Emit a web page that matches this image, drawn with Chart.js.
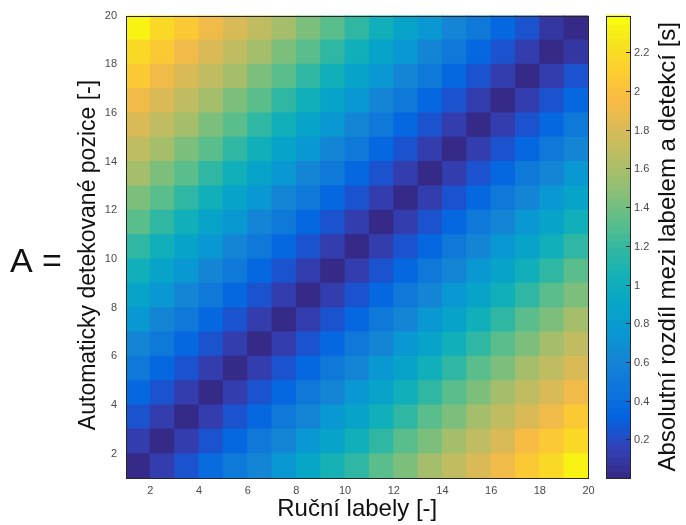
<!DOCTYPE html>
<html>
<head>
<meta charset="utf-8">
<script src="https://cdn.jsdelivr.net/npm/chart.js@4/dist/chart.umd.min.js"></script>
<style>
  html, body { margin: 0; padding: 0; background: #fff; }
  canvas { display: block; }
</style>
</head>
<body>
<canvas id="heat" width="686" height="525"></canvas>
<script>
// pcolor-style grid: 19 x 19 cells, cell [x, x+1] x [y, y+1]
const cols = [1, 2, 3, 4, 5, 6, 7, 8, 9, 10, 11, 12, 13, 14, 15, 16, 17, 18, 19];
const rows = [1, 2, 3, 4, 5, 6, 7, 8, 9, 10, 11, 12, 13, 14, 15, 16, 17, 18, 19];
const xTicks = [2, 4, 6, 8, 10, 12, 14, 16, 18, 20];
const yTicks = [2, 4, 6, 8, 10, 12, 14, 16, 18, 20];
const cbTicks = [0.2, 0.4, 0.6, 0.8, 1, 1.2, 1.4, 1.6, 1.8, 2, 2.2];
const cbRange = [0, 2.39];

// absolute difference [s], one array per row (y = 1 at the bottom)
const y01 = [0.02, 0.12, 0.25, 0.38, 0.50, 0.63, 0.77, 0.90, 1.05, 1.19, 1.32, 1.45, 1.57, 1.70, 1.82, 1.94, 2.07, 2.20, 2.34];
const y02 = [0.12, 0.03, 0.12, 0.24, 0.37, 0.50, 0.62, 0.76, 0.89, 1.04, 1.18, 1.31, 1.44, 1.57, 1.70, 1.82, 1.95, 2.07, 2.20];
const y03 = [0.23, 0.12, 0.02, 0.12, 0.23, 0.37, 0.49, 0.62, 0.75, 0.88, 1.03, 1.18, 1.31, 1.44, 1.57, 1.70, 1.82, 1.94, 2.07];
const y04 = [0.37, 0.23, 0.12, 0.02, 0.12, 0.24, 0.37, 0.49, 0.62, 0.75, 0.88, 1.04, 1.18, 1.31, 1.44, 1.57, 1.70, 1.82, 1.94];
const y05 = [0.49, 0.37, 0.23, 0.12, 0.02, 0.12, 0.24, 0.37, 0.49, 0.62, 0.75, 0.88, 1.04, 1.18, 1.31, 1.44, 1.57, 1.70, 1.82];
const y06 = [0.62, 0.49, 0.37, 0.23, 0.12, 0.02, 0.12, 0.23, 0.37, 0.49, 0.62, 0.75, 0.88, 1.04, 1.18, 1.31, 1.44, 1.57, 1.70];
const y07 = [0.75, 0.62, 0.49, 0.37, 0.23, 0.12, 0.02, 0.12, 0.24, 0.37, 0.50, 0.62, 0.75, 0.88, 1.04, 1.18, 1.31, 1.44, 1.57];
const y08 = [0.88, 0.75, 0.62, 0.49, 0.37, 0.23, 0.12, 0.02, 0.12, 0.23, 0.37, 0.49, 0.62, 0.75, 0.88, 1.04, 1.18, 1.31, 1.44];
const y09 = [1.04, 0.88, 0.75, 0.62, 0.49, 0.37, 0.23, 0.12, 0.02, 0.12, 0.24, 0.37, 0.49, 0.62, 0.76, 0.89, 1.04, 1.18, 1.31];
const y10 = [1.18, 1.04, 0.88, 0.75, 0.62, 0.49, 0.37, 0.23, 0.12, 0.02, 0.12, 0.23, 0.37, 0.49, 0.62, 0.75, 0.88, 1.04, 1.18];
const y11 = [1.31, 1.18, 1.04, 0.88, 0.75, 0.62, 0.49, 0.37, 0.24, 0.12, 0.02, 0.12, 0.23, 0.37, 0.49, 0.62, 0.75, 0.88, 1.04];
const y12 = [1.44, 1.31, 1.18, 1.04, 0.88, 0.75, 0.62, 0.49, 0.37, 0.23, 0.12, 0.02, 0.12, 0.24, 0.37, 0.49, 0.62, 0.76, 0.88];
const y13 = [1.57, 1.44, 1.31, 1.18, 1.04, 0.88, 0.75, 0.62, 0.49, 0.37, 0.23, 0.12, 0.02, 0.12, 0.23, 0.37, 0.49, 0.62, 0.75];
const y14 = [1.70, 1.57, 1.44, 1.31, 1.18, 1.04, 0.88, 0.75, 0.62, 0.49, 0.37, 0.24, 0.12, 0.02, 0.12, 0.23, 0.37, 0.49, 0.62];
const y15 = [1.82, 1.70, 1.57, 1.44, 1.31, 1.18, 1.04, 0.88, 0.75, 0.62, 0.49, 0.37, 0.23, 0.12, 0.02, 0.12, 0.24, 0.37, 0.49];
const y16 = [1.94, 1.82, 1.70, 1.57, 1.44, 1.31, 1.18, 1.04, 0.88, 0.75, 0.62, 0.49, 0.37, 0.23, 0.12, 0.02, 0.12, 0.23, 0.37];
const y17 = [2.07, 1.94, 1.82, 1.70, 1.57, 1.44, 1.31, 1.18, 1.04, 0.88, 0.75, 0.62, 0.49, 0.37, 0.23, 0.12, 0.02, 0.12, 0.23];
const y18 = [2.20, 2.07, 1.94, 1.82, 1.70, 1.57, 1.44, 1.31, 1.18, 1.04, 0.88, 0.75, 0.62, 0.49, 0.37, 0.23, 0.12, 0.02, 0.11];
const y19 = [2.33, 2.20, 2.07, 1.94, 1.82, 1.70, 1.57, 1.44, 1.31, 1.18, 1.04, 0.88, 0.75, 0.62, 0.49, 0.37, 0.23, 0.11, 0.02];
const cells = [y01, y02, y03, y04, y05, y06, y07, y08, y09, y10,
               y11, y12, y13, y14, y15, y16, y17, y18, y19];

// parula stops (index into a 64-level map, rgb)
const parula = [
  [0, 53, 42, 135], [4, 50, 67, 186], [8, 3, 99, 225], [12, 13, 117, 220],
  [16, 20, 133, 212], [20, 9, 152, 209], [24, 6, 167, 198], [28, 21, 177, 180],
  [32, 56, 185, 158], [36, 101, 190, 134], [40, 146, 191, 115], [44, 183, 189, 100],
  [48, 217, 186, 86], [52, 248, 187, 68], [56, 252, 206, 46], [60, 245, 228, 29],
  [63, 249, 251, 14]
];

function levelColor(level) {
  let i = 0;
  while (i < parula.length - 2 && parula[i + 1][0] <= level) i++;
  const a = parula[i], b = parula[i + 1];
  const f = (level - a[0]) / (b[0] - a[0]);
  const c = [1, 2, 3].map(k => Math.round(a[k] + (b[k] - a[k]) * f));
  return 'rgb(' + c.join(',') + ')';
}

function valueColor(v) {
  const t = (v - cbRange[0]) / (cbRange[1] - cbRange[0]);
  const level = Math.max(0, Math.min(63, Math.floor(t * 64)));
  return levelColor(level);
}

const FONT = '"Liberation Sans", Arial, Helvetica, sans-serif';

const datasets = rows.map((r, ri) => ({
  label: 'y' + r,
  data: cols.map(c => ({ x: c + 0.5, y: [r, r + 1] })),
  backgroundColor: cells[ri].map(valueColor),
  borderWidth: 0,
  inflateAmount: 0.5,
}));

const framePlugin = {
  id: 'frameAndColorbar',
  afterDraw(chart) {
    const ctx = chart.ctx;
    const area = chart.chartArea;
    ctx.save();

    // axes box
    ctx.strokeStyle = '#262626';
    ctx.lineWidth = 1;
    ctx.strokeRect(Math.round(area.left) + 0.5, Math.round(area.top) + 0.5,
      Math.round(area.right - area.left) - 1, Math.round(area.bottom - area.top));

    // y label, drawn here so it can sit where the original puts it
    ctx.save();
    ctx.translate(89, 255);
    ctx.rotate(-Math.PI / 2);
    ctx.font = '23px ' + FONT;
    ctx.fillStyle = '#111';
    ctx.textAlign = 'center';
    ctx.textBaseline = 'middle';
    ctx.fillText('Automaticky detekované pozice [-]', 0, 0);
    ctx.restore();

    // colorbar
    const cbLeft = Math.round(area.right + 17);
    const cbWidth = 24;
    const top = area.top, bottom = area.bottom, h = bottom - top;
    for (let lv = 0; lv < 64; lv++) {
      const y0 = bottom - (lv + 1) * h / 64;
      ctx.fillStyle = levelColor(lv);
      ctx.fillRect(cbLeft, Math.floor(y0), cbWidth, Math.ceil(h / 64) + 1);
    }
    ctx.strokeStyle = '#262626';
    ctx.strokeRect(cbLeft + 0.5, Math.round(top) + 0.5, cbWidth, Math.round(h));

    ctx.font = '11px ' + FONT;
    ctx.fillStyle = '#4a4a4a';
    ctx.textAlign = 'left';
    ctx.textBaseline = 'middle';
    cbTicks.forEach(v => {
      const y = Math.round(bottom - (v - cbRange[0]) / (cbRange[1] - cbRange[0]) * h) + 0.5;
      ctx.beginPath();
      ctx.moveTo(cbLeft + cbWidth - 4, y);
      ctx.lineTo(cbLeft + cbWidth, y);
      ctx.stroke();
      ctx.fillText(String(v), cbLeft + cbWidth + 4, y);
    });

    // colorbar label
    ctx.save();
    ctx.translate(668, (top + bottom) / 2);
    ctx.rotate(-Math.PI / 2);
    ctx.font = '24px ' + FONT;
    ctx.fillStyle = '#111';
    ctx.textAlign = 'center';
    ctx.textBaseline = 'middle';
    ctx.fillText('Absolutní rozdíl mezi labelem a detekcí [s]', 0, 0);
    ctx.restore();

    // "A =" prefix
    ctx.font = '34px ' + FONT;
    ctx.fillStyle = '#111';
    ctx.textAlign = 'left';
    ctx.textBaseline = 'alphabetic';
    ctx.fillText('A =', 10, 272);

    ctx.restore();
  }
};

new Chart(document.getElementById('heat'), {
  type: 'bar',
  data: { datasets },
  options: {
    responsive: false,
    devicePixelRatio: 1,
    animation: false,
    events: [],
    layout: { padding: { left: 0, top: 15, right: 97.5, bottom: 0 } },
    datasets: {
      bar: { grouped: false, barPercentage: 1, categoryPercentage: 1 }
    },
    plugins: {
      legend: { display: false },
      tooltip: { enabled: false }
    },
    scales: {
      x: {
        type: 'linear',
        offset: false,
        min: 1,
        max: 20,
        afterFit: s => { s.height = 47; },
        afterBuildTicks: s => { s.ticks = xTicks.map(v => ({ value: v })); },
        grid: { display: false, drawTicks: false },
        border: { display: false },
        ticks: {
          autoSkip: false,
          maxRotation: 0,
          padding: 6,
          color: '#4a4a4a',
          font: { family: FONT, size: 11 }
        },
        title: {
          display: true,
          text: 'Ruční labely [-]',
          color: '#111',
          font: { family: FONT, size: 24 },
          padding: { top: 0, bottom: 1 }
        }
      },
      y: {
        type: 'linear',
        offset: false,
        min: 1,
        max: 20,
        afterFit: s => { s.width = 126; },
        afterBuildTicks: s => { s.ticks = yTicks.map(v => ({ value: v })); },
        grid: { display: false, drawTicks: false },
        border: { display: false },
        ticks: {
          autoSkip: false,
          padding: 9,
          color: '#4a4a4a',
          font: { family: FONT, size: 11 }
        }
      }
    }
  },
  plugins: [framePlugin]
});
</script>
</body>
</html>
